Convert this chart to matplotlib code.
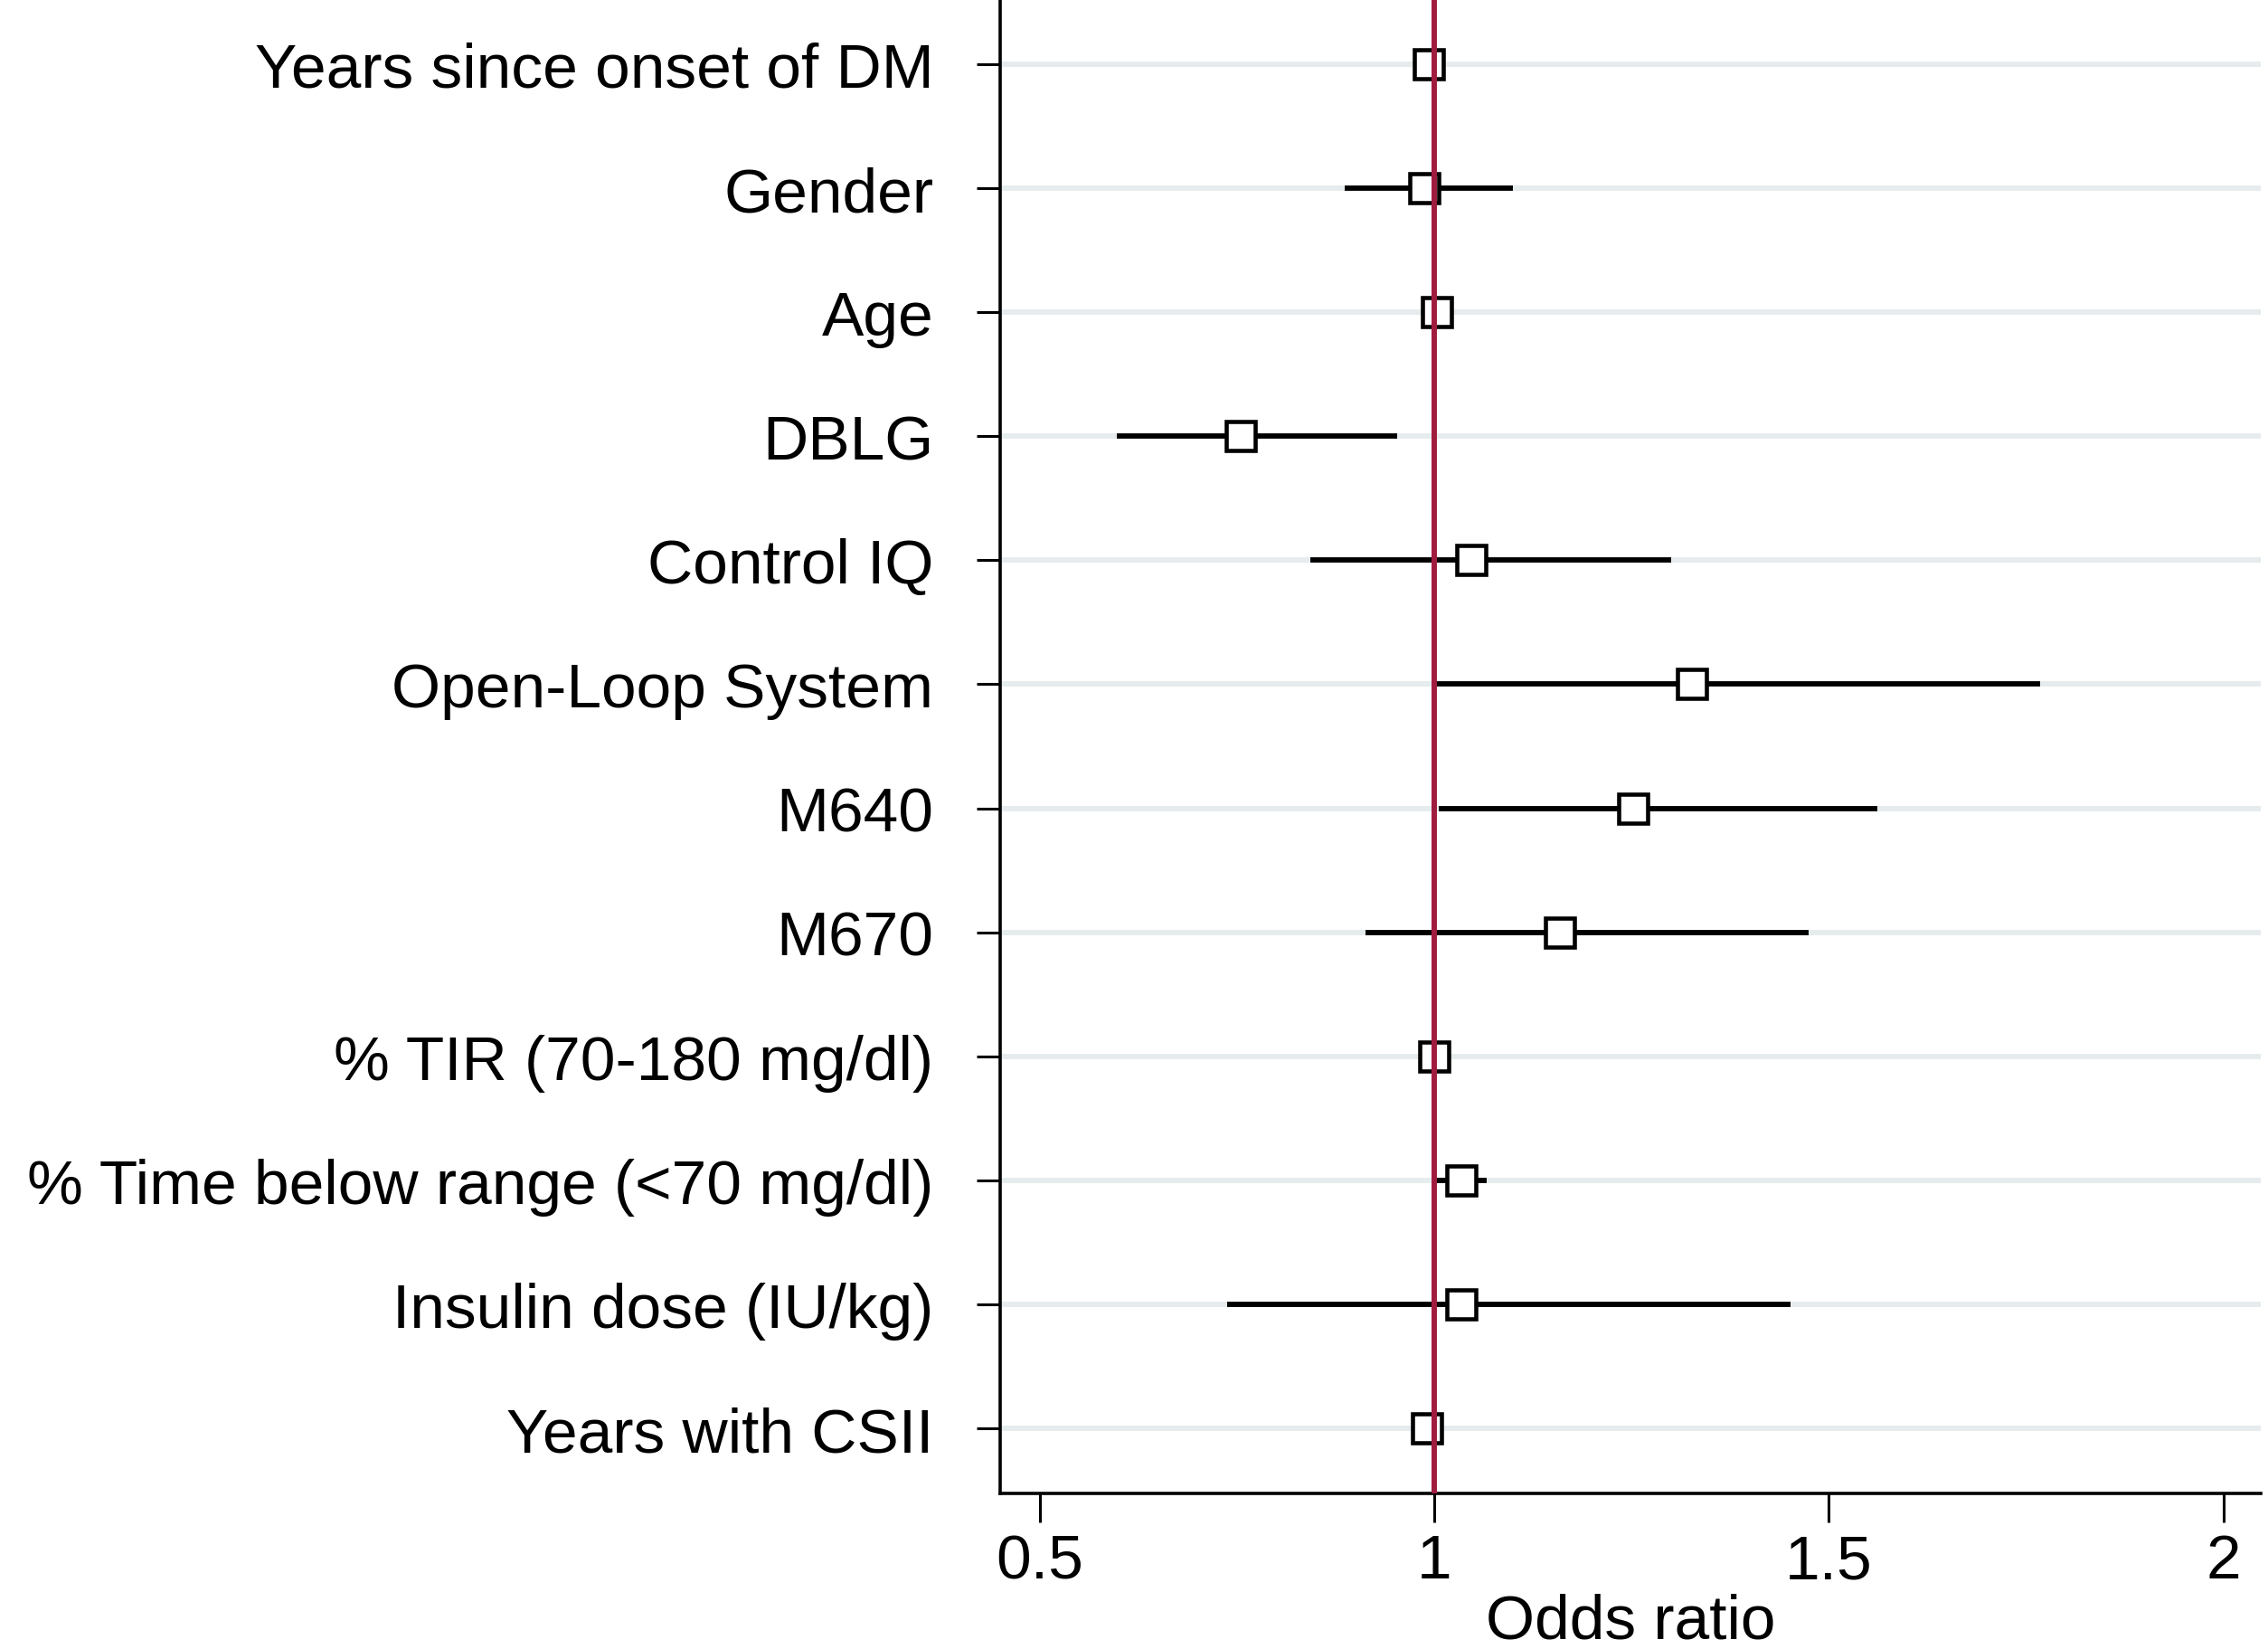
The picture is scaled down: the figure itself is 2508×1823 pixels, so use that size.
import matplotlib
matplotlib.use("Agg")
import matplotlib.pyplot as plt
from matplotlib import font_manager

# odds ratios with 95% CI, top row first
labels = ["Years since onset of DM", "Gender", "Age", "DBLG", "Control IQ",
          "Open-Loop System", "M640", "M670", "% TIR (70-180 mg/dl)",
          "% Time below range (<70 mg/dl)", "Insulin dose (IU/kg)",
          "Years with CSII"]
odds = [0.993, 0.987, 1.003, 0.755, 1.047, 1.327, 1.252, 1.159, 1.000,
        1.034, 1.034, 0.991]
ci_low = [0.985, 0.887, 0.995, 0.598, 0.843, 0.998, 1.006, 0.913, 0.995,
          1.003, 0.738, 0.975]
ci_high = [1.002, 1.100, 1.011, 0.953, 1.300, 1.768, 1.561, 1.474, 1.005,
           1.067, 1.452, 1.008]
xticks = [0.5, 1, 1.5, 2]
xtick_labels = ["0.5", "1", "1.5", "2"]

names = {f.name for f in font_manager.fontManager.ttflist}
if "Liberation Sans Narrow" in names:
    fam, fs = ["Liberation Sans Narrow", "DejaVu Sans"], 57
else:
    fam, fs = ["Liberation Sans", "DejaVu Sans"], 50
plt.rcParams["font.family"] = fam

fig = plt.figure(figsize=(25.08, 18.24), dpi=100)
ax = fig.add_axes([0.441, 0.0943, 0.556, 0.9057])

n = len(labels)
ypos = list(range(n, 0, -1))

for y in ypos:
    ax.axhline(y, color="#e6ecee", lw=4.3, zorder=1)

ax.hlines(ypos, ci_low, ci_high, color="black", lw=4.2, zorder=2)
ax.plot(odds, ypos, "s", ms=23, mfc="white", mec="black", mew=3.3,
        zorder=3, linestyle="none")
ax.axvline(1, color="#a01c3e", lw=4.3, zorder=4)

ax.set_xlim(0.45, 2.048)
ax.set_ylim(0.475, n + 0.525)
ax.set_yticks(ypos)
ax.set_yticklabels(labels, fontsize=fs)
ax.set_xticks(xticks)
ax.set_xticklabels(xtick_labels, fontsize=fs)
ax.tick_params(axis="y", length=19, width=2.2, pad=34)
ax.tick_params(axis="x", length=23, width=2.2, pad=8)
ax.set_xlabel("Odds ratio", fontsize=fs, labelpad=2)

for s in ["top", "right"]:
    ax.spines[s].set_visible(False)
for s in ["left", "bottom"]:
    ax.spines[s].set_linewidth(2.6)

fig.savefig("out.png", dpi=100)
